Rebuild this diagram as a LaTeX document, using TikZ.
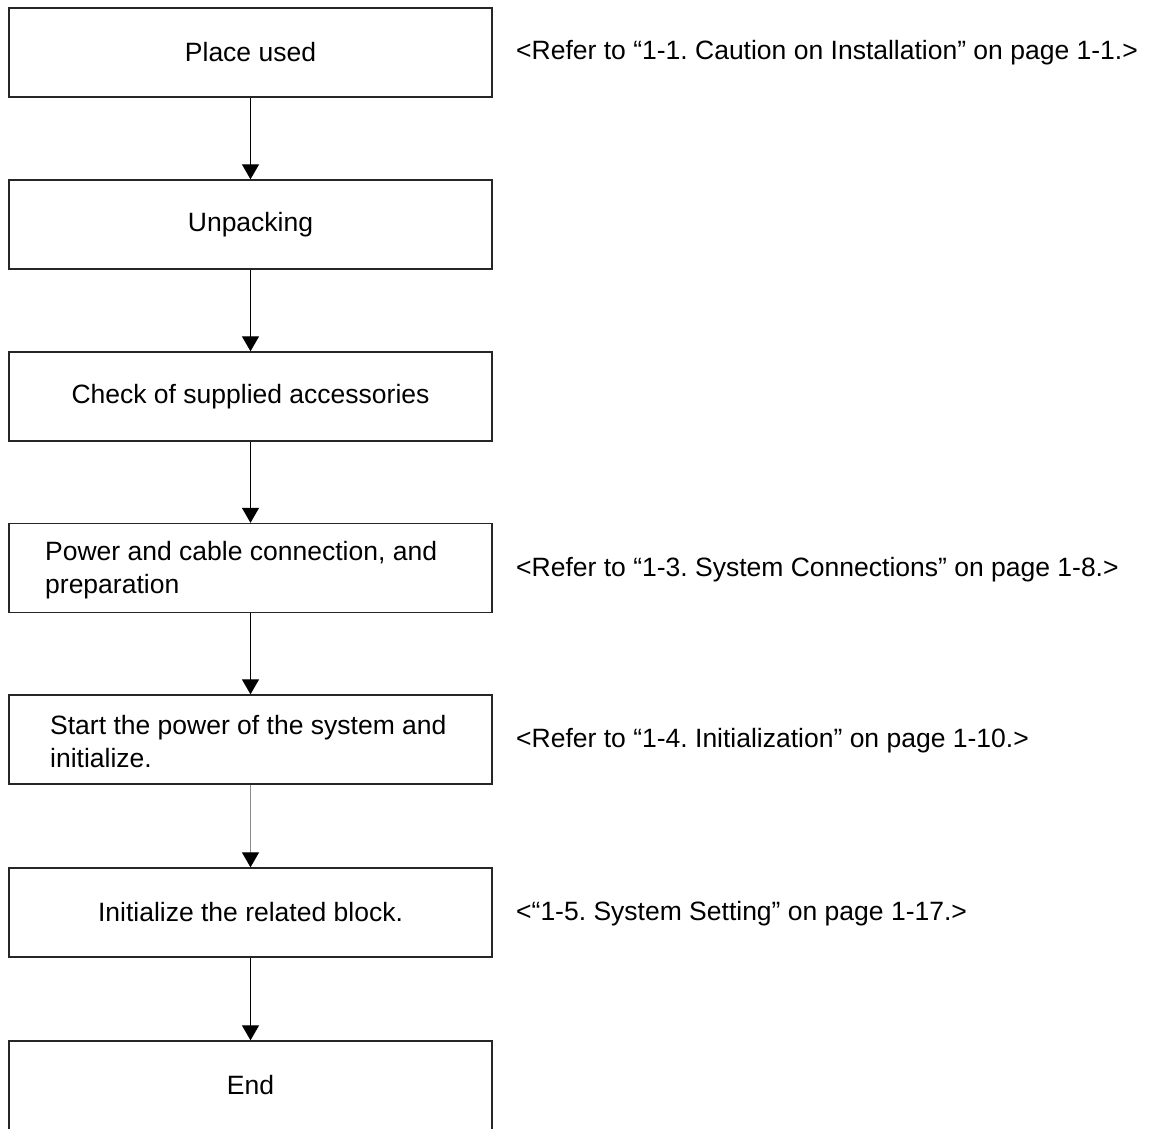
\documentclass[tikz,border=0pt]{standalone}
\usepackage{fontspec}
\setmainfont{Liberation Sans}
\usetikzlibrary{arrows.meta}
\frenchspacing
\tikzset{
  box/.style={draw=black!85, line width=1.4pt, minimum width=483pt, minimum height=89pt, inner sep=0pt, font=\fontsize{26.5}{33}\selectfont},
  boxtext/.style={anchor=west, inner sep=0pt, align=left, font=\fontsize{26.5}{33}\selectfont},
  note/.style={anchor=west, inner sep=0pt, font=\fontsize{26.5}{33}\selectfont},
  flow/.style={line width=1.3pt, -{Triangle[width=17pt,length=15pt,color=black]}},
}
\begin{document}
\begin{tikzpicture}[x=1pt,y=-1pt]
\useasboundingbox (0,0) rectangle (1150,1128);
\node[box] (b1) at (250.5,52.5) {Place used};
\node[box] (b2) at (250.5,224.5) {Unpacking};
\node[box] (b3) at (250.5,396.5) {Check of supplied accessories};
\node[box] (b4) at (250.5,568) {};
\node[box] (b5) at (250.5,739.5) {};
\node[box] (b6) at (250.5,912.5) {Initialize the related block.};
\node[box] (b7) at (250.5,1085.5) {End};
\node[boxtext] (t4) at (45,570) {Power and cable connection, and\\preparation};
\node[boxtext] (t5) at (50,742) {Start the power of the system and\\initialize.};
\node[note] (n1) at (516,53) {<Refer to “1-1. Caution on Installation” on page 1-1.>};
\node[note] (n4) at (516,570) {<Refer to “1-3. System Connections” on page 1-8.>};
\node[note] (n5) at (516,741) {<Refer to “1-4. Initialization” on page 1-10.>};
\node[note] (n6) at (516,914) {<“1-5. System Setting” on page 1-17.>};
\draw[flow] (b1.south) -- (b2.north);
\draw[flow] (b2.south) -- (b3.north);
\draw[flow] (b3.south) -- (b4.north);
\draw[flow] (b4.south) -- (b5.north);
\draw[flow, draw=black!45] (b5.south) -- (b6.north);
\draw[flow] (b6.south) -- (b7.north);
\end{tikzpicture}
\end{document}
